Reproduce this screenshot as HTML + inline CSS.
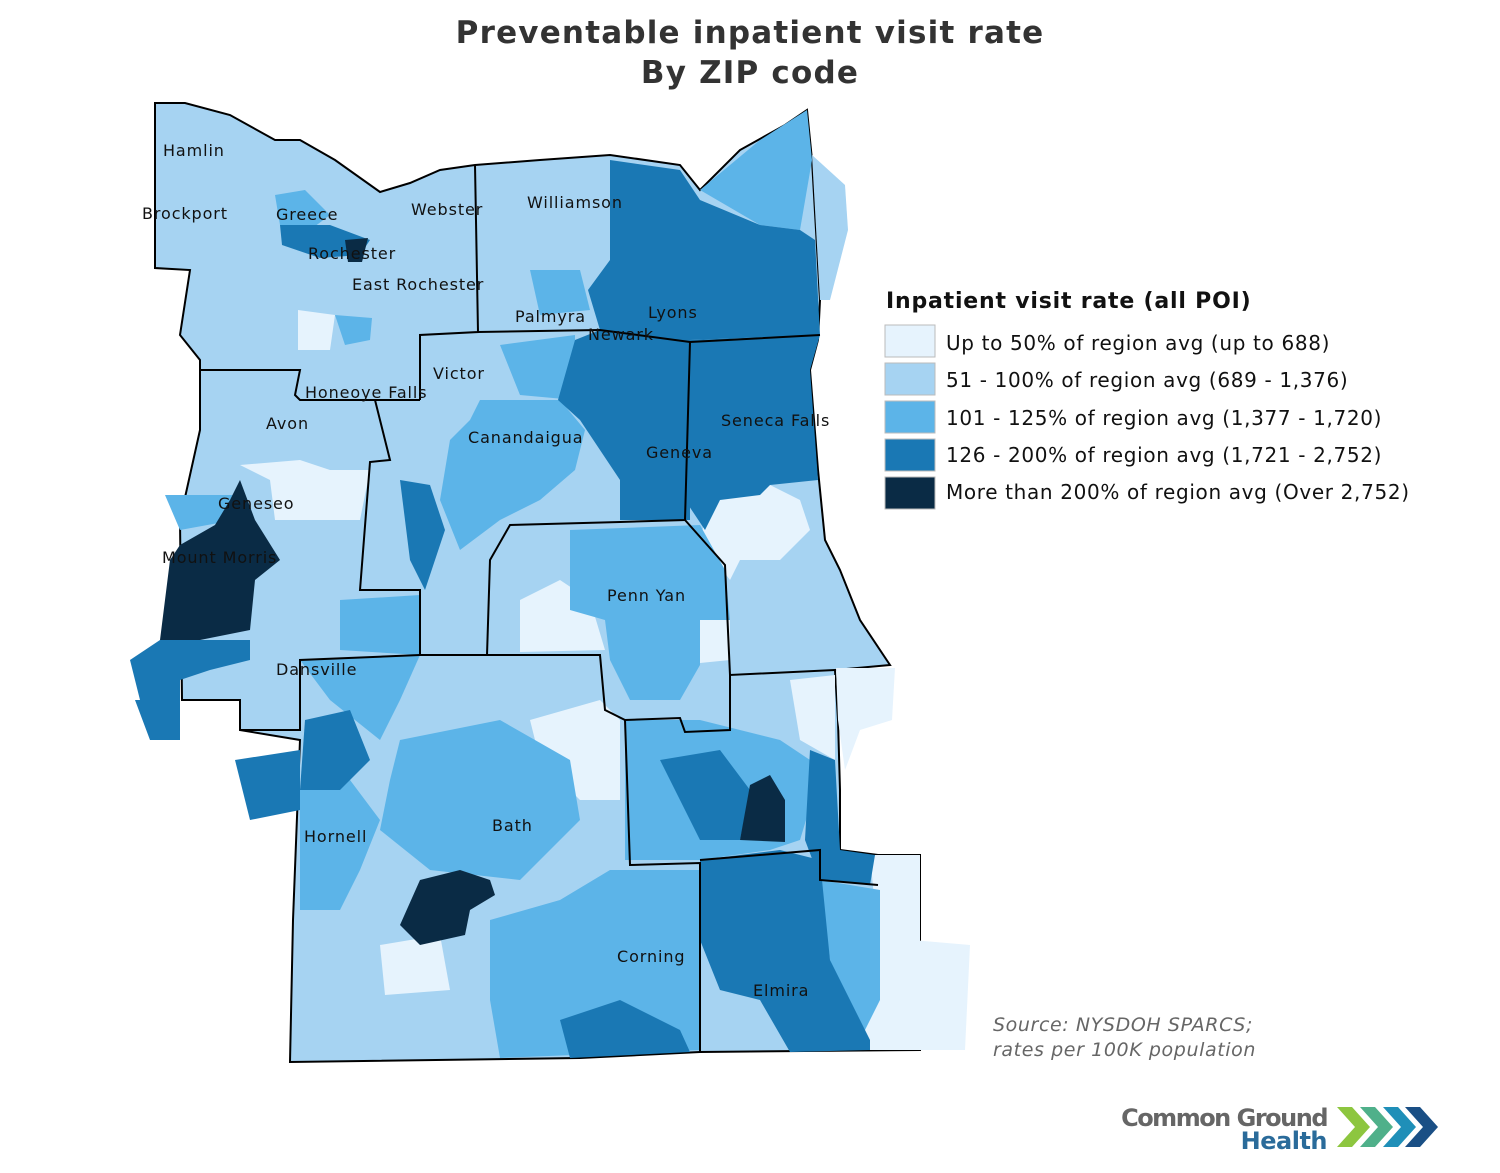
<!DOCTYPE html>
<html><head><meta charset="utf-8"><style>
body{margin:0;background:#fff;width:1500px;height:1173px;overflow:hidden;font-family:"DejaVu Sans","Liberation Sans",sans-serif}
svg{position:absolute;left:0;top:0}
</style></head><body>
<svg width="1500" height="1173" viewBox="0 0 1500 1173" font-family="DejaVu Sans, Liberation Sans, sans-serif">
<text x="750" y="43" text-anchor="middle" font-size="31" font-weight="bold" fill="#333" letter-spacing="1.2">Preventable inpatient visit rate</text>
<text x="750" y="83" text-anchor="middle" font-size="31" font-weight="bold" fill="#333" letter-spacing="1.2">By ZIP code</text>

<polygon fill="#a6d3f2" stroke="#000" stroke-width="2" points="155,103 185,103 230,115 275,140 300,140 335,160 380,192 410,183 440,170 475,165 540,160 610,155 680,165 700,190 740,150 785,125 807,110 812,160 820,300 818,340 810,370 818,470 825,540 840,570 860,620 890,665 835,670 838,720 840,790 840,850 878,855 920,855 920,1050 700,1052 580,1058 290,1062 293,920 300,740 240,730 240,700 182,700 180,520 200,430 200,360 180,335 190,270 155,268"/>
<polygon fill="#a6d3f2" points="812,155 845,185 848,230 830,300 820,300"/>
<polygon fill="#e6f3fd" points="836,668 895,668 892,720 860,730 845,770 838,720"/>
<polygon fill="#e6f3fd" points="912,940 970,945 965,1050 915,1050"/>
<polygon fill="#e6f3fd" points="870,855 920,855 920,1050 860,1050 880,960"/>
<polygon fill="#e6f3fd" points="710,500 770,485 800,500 810,530 780,560 740,560 730,580 700,540"/>
<polygon fill="#e6f3fd" points="790,680 835,675 835,760 800,740"/>
<polygon fill="#e6f3fd" points="240,465 300,460 330,470 370,470 360,520 300,520 275,520 270,480"/>
<polygon fill="#e6f3fd" points="520,600 560,580 590,600 605,650 520,652"/>
<polygon fill="#e6f3fd" points="675,620 730,620 730,660 680,665"/>
<polygon fill="#e6f3fd" points="530,720 600,700 620,720 620,800 580,800 540,760"/>
<polygon fill="#e6f3fd" points="380,945 440,935 450,990 385,995"/>
<polygon fill="#e6f3fd" points="298,310 335,315 330,350 298,350"/>
<polygon fill="#5cb4e8" points="700,190 760,140 807,110 812,160 800,230 760,225"/>
<polygon fill="#5cb4e8" points="570,530 700,525 725,570 730,620 700,620 700,665 680,700 630,700 610,660 605,620 570,610"/>
<polygon fill="#5cb4e8" points="480,400 560,400 585,430 575,470 540,500 500,520 460,550 440,500 450,440 470,420"/>
<polygon fill="#5cb4e8" points="500,345 575,335 575,400 520,395"/>
<polygon fill="#5cb4e8" points="530,270 580,270 590,310 540,315"/>
<polygon fill="#5cb4e8" points="275,195 305,190 330,215 310,230 280,225"/>
<polygon fill="#5cb4e8" points="335,315 372,318 370,340 345,345"/>
<polygon fill="#5cb4e8" points="400,740 500,720 570,760 580,820 520,880 430,870 380,830 390,780"/>
<polygon fill="#5cb4e8" points="300,790 350,780 380,820 360,870 340,910 300,910"/>
<polygon fill="#5cb4e8" points="300,660 420,655 400,700 380,740 330,700"/>
<polygon fill="#5cb4e8" points="340,600 420,595 420,655 340,650"/>
<polygon fill="#5cb4e8" points="490,920 560,900 610,870 700,870 700,1050 500,1058 490,1000"/>
<polygon fill="#5cb4e8" points="820,880 880,890 880,1000 860,1040 830,960"/>
<polygon fill="#5cb4e8" points="625,720 700,720 740,730 780,740 810,760 815,790 800,840 770,850 700,860 625,860"/>
<polygon fill="#5cb4e8" points="165,495 240,495 235,520 180,530"/>
<polygon fill="#1a78b4" points="610,160 680,170 700,200 760,225 800,230 815,240 820,335 690,340 690,520 620,520 620,480 600,450 580,420 558,400 575,340 600,330 588,290 610,260"/>
<polygon fill="#1a78b4" points="690,340 820,335 810,370 818,480 770,485 760,495 720,500 705,530 685,500"/>
<polygon fill="#1a78b4" points="400,480 430,485 445,530 425,590 410,560"/>
<polygon fill="#1a78b4" points="130,660 160,640 250,640 250,660 210,670 180,680 180,700 140,700"/>
<polygon fill="#1a78b4" points="135,700 180,700 180,740 150,740"/>
<polygon fill="#1a78b4" points="235,760 300,750 300,810 250,820"/>
<polygon fill="#1a78b4" points="305,720 350,710 370,760 340,790 300,790"/>
<polygon fill="#1a78b4" points="560,1020 620,1000 680,1030 690,1052 570,1058"/>
<polygon fill="#1a78b4" points="700,860 780,850 820,860 830,960 870,1040 870,1050 790,1052 760,1000 720,990 700,940"/>
<polygon fill="#1a78b4" points="660,760 720,750 750,790 740,840 700,840"/>
<polygon fill="#1a78b4" points="810,750 835,760 840,850 875,855 870,885 820,880 805,840"/>
<polygon fill="#1a78b4" points="280,225 330,225 370,240 360,255 320,258 282,245"/>
<polygon fill="#0a2b45" points="180,545 215,525 230,500 240,480 255,520 280,560 255,580 250,630 200,640 160,640 165,600 170,560"/>
<polygon fill="#0a2b45" points="420,880 460,870 490,880 495,895 470,910 465,935 420,945 400,925"/>
<polygon fill="#0a2b45" points="750,785 770,775 785,800 785,842 740,840"/>
<polygon fill="#0a2b45" points="345,240 368,238 362,262 348,262"/>
<g fill="none" stroke="#000" stroke-width="2">
<polyline points="475,165 478,332 420,335 420,400"/>
<polyline points="478,332 600,330 690,342 820,335"/>
<polyline points="690,342 685,520 620,522 510,525 490,560 487,655"/>
<polyline points="200,370 300,370 295,395 300,400 420,400"/>
<polyline points="375,400 390,460 370,462 360,590 420,590 420,655"/>
<polyline points="685,520 725,565 730,675 835,670"/>
<polyline points="240,730 300,730 300,660 420,655 600,655 605,710 625,720 680,718 685,732 730,730 730,675"/>
<polyline points="625,720 630,865 700,863 700,1052"/>
<polyline points="700,860 820,850 820,880 878,885"/>
</g>
<g font-size="16" fill="#111" letter-spacing="0.9">
<text x="163" y="156">Hamlin</text><text x="142" y="219">Brockport</text><text x="276" y="220">Greece</text>
<text x="411" y="215">Webster</text><text x="527" y="208">Williamson</text><text x="308" y="259">Rochester</text>
<text x="352" y="290">East Rochester</text><text x="515" y="322">Palmyra</text><text x="648" y="318">Lyons</text>
<text x="588" y="340">Newark</text><text x="433" y="379">Victor</text><text x="305" y="398">Honeoye Falls</text>
<text x="266" y="429">Avon</text><text x="468" y="443">Canandaigua</text><text x="721" y="426">Seneca Falls</text>
<text x="646" y="458">Geneva</text><text x="218" y="509">Geneseo</text><text x="162" y="563">Mount Morris</text>
<text x="607" y="601">Penn Yan</text><text x="276" y="675">Dansville</text><text x="492" y="831">Bath</text>
<text x="304" y="842">Hornell</text><text x="617" y="962">Corning</text><text x="753" y="996">Elmira</text>
</g>
<text x="886" y="308" font-size="22" font-weight="bold" fill="#111" letter-spacing="0.8">Inpatient visit rate (all POI)</text>
<g stroke="#bbb" stroke-width="1">
<rect x="885" y="325" width="50" height="32" fill="#e6f3fd"/>
<rect x="885" y="363" width="50" height="32" fill="#a6d3f2"/>
<rect x="885" y="401" width="50" height="32" fill="#5cb4e8"/>
<rect x="885" y="439" width="50" height="32" fill="#1a78b4"/>
<rect x="885" y="477" width="50" height="32" fill="#0a2b45"/>
</g>
<g font-size="20" fill="#111" letter-spacing="0.65">
<text x="946" y="350">Up to 50% of region avg (up to 688)</text>
<text x="946" y="387">51 - 100% of region avg (689 - 1,376)</text>
<text x="946" y="425">101 - 125% of region avg (1,377 - 1,720)</text>
<text x="946" y="462">126 - 200% of region avg (1,721 - 2,752)</text>
<text x="946" y="499">More than 200% of region avg (Over 2,752)</text>
</g>
<g font-size="19" font-style="italic" fill="#666" letter-spacing="0.6">
<text x="993" y="1031">Source: NYSDOH SPARCS;</text>
<text x="993" y="1056">rates per 100K population</text>
</g>
<text x="1327" y="1126" text-anchor="end" font-size="24" font-weight="bold" fill="#666" letter-spacing="-1.5">Common Ground</text>
<text x="1327" y="1149" text-anchor="end" font-size="24" font-weight="bold" fill="#2a6b9a" letter-spacing="-0.5">Health</text>
<g>
<polygon fill="#8dc63f" points="1337,1107 1352,1107 1370,1127 1352,1147 1337,1147 1355,1127"/>
<polygon fill="#4fb08a" points="1360,1107 1375,1107 1393,1127 1375,1147 1360,1147 1378,1127"/>
<polygon fill="#1f8fb8" points="1383,1107 1398,1107 1416,1127 1398,1147 1383,1147 1401,1127"/>
<polygon fill="#1a4f85" points="1405,1107 1420,1107 1438,1127 1420,1147 1405,1147 1423,1127"/>
</g>
</svg>
</body></html>
